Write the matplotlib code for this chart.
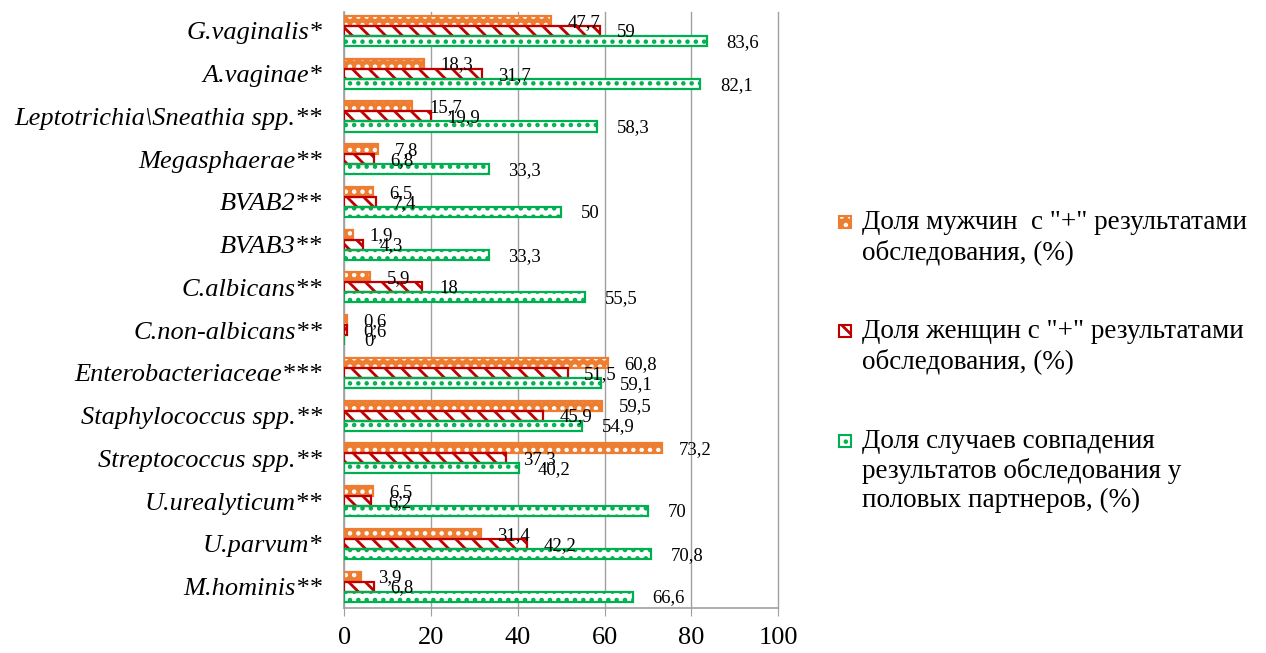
import matplotlib.pyplot as plt
import numpy as np
from matplotlib.patches import Rectangle

plt.rcParams['font.family'] = ['Liberation Serif', 'DejaVu Serif']
plt.rcParams['hatch.linewidth'] = 2.0

categories = ['G.vaginalis*', 'A.vaginae*', 'Leptotrichia\\Sneathia spp.**',
              'Megasphaerae**', 'BVAB2**', 'BVAB3**', 'C.albicans**',
              'C.non-albicans**', 'Enterobacteriaceae***', 'Staphylococcus spp.**',
              'Streptococcus spp.**', 'U.urealyticum**', 'U.parvum*', 'M.hominis**']
men = [47.7, 18.3, 15.7, 7.8, 6.5, 1.9, 5.9, 0.6, 60.8, 59.5, 73.2, 6.5, 31.4, 3.9]
women = [59, 31.7, 19.9, 6.8, 7.4, 4.3, 18, 0.6, 51.5, 45.9, 37.3, 6.2, 42.2, 6.8]
couples = [83.6, 82.1, 58.3, 33.3, 50, 33.3, 55.5, 0, 59.1, 54.9, 40.2, 70, 70.8, 66.6]
legend_labels = ['Доля мужчин  с "+" результатами\nобследования, (%)',
                 'Доля женщин с "+" результатами\nобследования, (%)',
                 'Доля случаев совпадения\nрезультатов обследования у\nполовых партнеров, (%)']

orange = '#ED7D31'
red = '#C00000'
green = '#00B050'

# face, hatch colour, hatch, edge colour for each series
styles = [(orange, 'white', '..', orange),
          ('white', red, '\\\\', red),
          ('white', green, '..', green)]

fig = plt.figure(figsize=(12.66, 6.53), dpi=100)
ax = fig.add_axes([0.272, 0.069, 0.3425, 0.913])

y = np.arange(len(categories))
h = 0.235
offsets = [-h, 0, h]
for vals, off, (face, hcol, hatch, edge) in zip([men, women, couples], offsets, styles):
    ax.barh(y + off, vals, height=h, color=face, edgecolor=hcol, hatch=hatch, linewidth=0, zorder=3)
    ax.barh(y + off, vals, height=h, facecolor='none', edgecolor=edge, linewidth=1.6, zorder=4)
    dx = 14 if edge == green else 12
    for yi, v in zip(y, vals):
        txt = ('%g' % v).replace('.', ',')
        ax.annotate(txt, (v, yi + off), xytext=(dx, -1), textcoords='offset points',
                    ha='left', va='center', fontsize=13.5, zorder=5)

ax.set_xlim(0, 100)
ax.set_ylim(len(categories) - 0.5, -0.45)
ax.set_xticks(range(0, 101, 20))
ax.set_yticks(y)
ax.set_yticklabels(categories, fontsize=19, style='italic')
ax.tick_params(axis='y', length=0, pad=16)
ax.tick_params(axis='x', length=6, color='#A0A0A0', labelsize=19, pad=8)
ax.grid(axis='x', color='#A0A0A0', linewidth=1, zorder=0)
for gl in ax.get_xgridlines():
    gl.set_clip_on(False)
for s in ['top', 'right']:
    ax.spines[s].set_visible(False)
for s in ['left', 'bottom']:
    ax.spines[s].set_color('#A0A0A0')
    ax.spines[s].set_linewidth(1.2)

# legend drawn by hand so each marker sits beside the first line of its text
legend_y = [0.66, 0.493, 0.325]
for (face, hcol, hatch, edge), lab, ly in zip(styles, legend_labels, legend_y):
    fig.patches.append(Rectangle((0.663, ly - 0.009), 0.0095, 0.018, transform=fig.transFigure,
                                 facecolor=face, edgecolor=hcol, hatch=hatch, linewidth=0))
    fig.patches.append(Rectangle((0.663, ly - 0.009), 0.0095, 0.018, transform=fig.transFigure,
                                 facecolor='none', edgecolor=edge, linewidth=1.5))
    fig.text(0.681, ly + 0.018, lab, fontsize=19.5, va='top', ha='left', linespacing=1.2)

fig.savefig('out.png', dpi=100)
